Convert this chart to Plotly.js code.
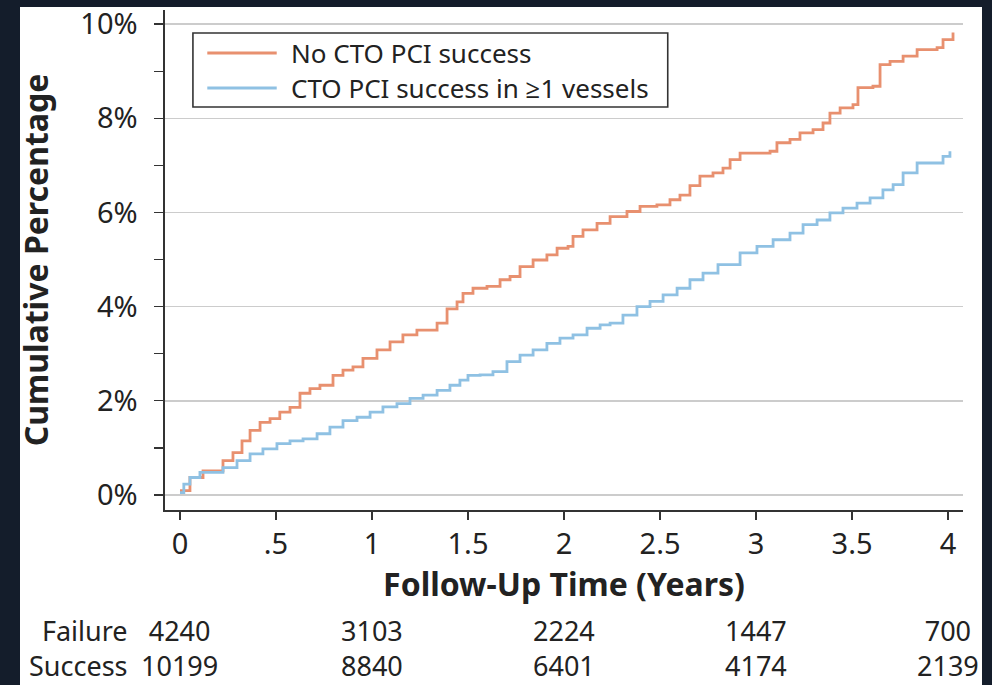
<!DOCTYPE html>
<html>
<head>
<meta charset="utf-8">
<script src="https://cdn.plot.ly/plotly-3.0.1.min.js"></script>
<style>
  html, body { margin: 0; padding: 0; background: #141d2b; width: 992px; height: 685px; overflow: hidden; }
  #chart { position: absolute; left: 0; top: 0; width: 992px; height: 685px; }
</style>
</head>
<body>
<div id="chart"></div>
<script>
// Cumulative incidence (%) over follow-up years, Kaplan-Meier style steps
const failureYears = [0, 0.052, 0.12, 0.17, 0.224, 0.276, 0.323, 0.365, 0.417, 0.469, 0.52, 0.573, 0.625, 0.677, 0.729, 0.797, 0.849, 0.901, 0.953, 1.026, 1.094, 1.161, 1.234, 1.292, 1.339, 1.391, 1.443, 1.474, 1.526, 1.599, 1.667, 1.719, 1.771, 1.839, 1.911, 1.964, 2.021, 2.047, 2.099, 2.172, 2.24, 2.328, 2.396, 2.484, 2.552, 2.604, 2.656, 2.708, 2.776, 2.828, 2.865, 2.917, 3.005, 3.073, 3.109, 3.177, 3.229, 3.297, 3.349, 3.385, 3.438, 3.505, 3.531, 3.609, 3.646, 3.698, 3.766, 3.839, 3.943, 3.974, 4.026];
const failurePct = [0.09, 0.37, 0.51, 0.51, 0.73, 0.9, 1.15, 1.37, 1.54, 1.62, 1.76, 1.86, 2.16, 2.26, 2.33, 2.54, 2.65, 2.72, 2.9, 3.08, 3.25, 3.4, 3.5, 3.5, 3.65, 3.95, 4.1, 4.28, 4.39, 4.43, 4.57, 4.64, 4.85, 4.99, 5.1, 5.24, 5.28, 5.49, 5.63, 5.77, 5.91, 6.02, 6.13, 6.16, 6.27, 6.37, 6.57, 6.77, 6.84, 6.94, 7.12, 7.26, 7.26, 7.3, 7.48, 7.55, 7.69, 7.76, 7.9, 8.11, 8.22, 8.29, 8.65, 8.68, 9.14, 9.21, 9.32, 9.46, 9.5, 9.67, 9.82];

const successYears = [0, 0.02, 0.052, 0.104, 0.172, 0.224, 0.297, 0.365, 0.432, 0.505, 0.573, 0.641, 0.714, 0.781, 0.849, 0.922, 0.99, 1.057, 1.13, 1.198, 1.266, 1.339, 1.406, 1.458, 1.5, 1.563, 1.63, 1.703, 1.771, 1.839, 1.911, 1.979, 2.047, 2.12, 2.188, 2.24, 2.307, 2.38, 2.448, 2.516, 2.589, 2.656, 2.724, 2.802, 2.917, 3.005, 3.089, 3.177, 3.245, 3.318, 3.385, 3.453, 3.526, 3.594, 3.661, 3.714, 3.766, 3.839, 3.922, 3.974, 4.01];
const successPct = [0.05, 0.23, 0.37, 0.48, 0.48, 0.58, 0.73, 0.87, 0.98, 1.09, 1.15, 1.19, 1.3, 1.44, 1.58, 1.65, 1.76, 1.87, 1.94, 2.05, 2.12, 2.22, 2.33, 2.44, 2.54, 2.55, 2.62, 2.83, 2.97, 3.08, 3.22, 3.33, 3.4, 3.54, 3.61, 3.65, 3.82, 4.0, 4.11, 4.25, 4.39, 4.57, 4.71, 4.89, 5.14, 5.28, 5.42, 5.56, 5.74, 5.84, 5.99, 6.09, 6.2, 6.31, 6.48, 6.59, 6.84, 7.05, 7.05, 7.19, 7.3];

const seriesNames = ['No CTO PCI success', 'CTO PCI success in \u22651 vessels'];
const seriesColors = ['#e8906f', '#8fc1e3'];

// Number at risk table
const riskYears = [0, 1, 2, 3, 4];
const riskFailure = [4240, 3103, 2224, 1447, 700];
const riskSuccess = [10199, 8840, 6401, 4174, 2139];
const riskLabels = ['Failure', 'Success'];

const yTickVals = [0, 2, 4, 6, 8, 10];
const yTickText = ['0%', '2%', '4%', '6%', '8%', '10%'];
const xTickVals = [0, 0.5, 1, 1.5, 2, 2.5, 3, 3.5, 4];
const xTickText = ['0', '.5', '1', '1.5', '2', '2.5', '3', '3.5', '4'];

const FONT = 'Noto Sans, Open Sans, sans-serif';
const INK = '#222222';
const FRAME = '#141d2b';

const traces = [
  { x: failureYears, y: failurePct, name: seriesNames[0], type: 'scatter', mode: 'lines',
    line: { color: seriesColors[0], width: 2.8, shape: 'hv' } },
  { x: successYears, y: successPct, name: seriesNames[1], type: 'scatter', mode: 'lines',
    line: { color: seriesColors[1], width: 2.8, shape: 'hv' } }
];

// Risk table: one two-line annotation per column (failure on top, success below)
const annotations = [];
const riskY = -0.276;
const riskFont = { family: FONT, size: 27, color: INK };
annotations.push({ xref: 'paper', yref: 'paper', x: -0.044, y: riskY, xanchor: 'right', yanchor: 'middle',
  align: 'right', text: riskLabels.join('<br>'), showarrow: false, font: riskFont });
riskYears.forEach((yr, i) => {
  annotations.push({ xref: 'x', yref: 'paper', x: yr, y: riskY, xanchor: 'center', yanchor: 'middle',
    align: 'center', text: riskFailure[i] + '<br>' + riskSuccess[i], showarrow: false, font: riskFont });
});

// Hand-built legend box so the sample lines run long
const legendRows = [0.914, 0.844];
seriesNames.forEach((name, i) => {
  annotations.push({ xref: 'paper', yref: 'paper', x: 0.156, y: legendRows[i], xanchor: 'left', yanchor: 'middle',
    text: name, showarrow: false, font: { family: FONT, size: 26, color: INK } });
});
const shapes = [
  // white figure panel inside the dark frame
  { type: 'rect', xref: 'paper', yref: 'paper', x0: -0.1817, x1: 1.0238, y0: -0.36, y1: 1.006,
    line: { width: 0 }, fillcolor: '#ffffff', layer: 'below' },
  { type: 'rect', xref: 'paper', yref: 'paper', x0: 0.035, x1: 0.630, y0: 0.806, y1: 0.954,
    line: { color: '#333333', width: 1.6 }, fillcolor: 'rgba(255,255,255,1)', layer: 'above' },
  { type: 'line', xref: 'paper', yref: 'paper', x0: 0.053, x1: 0.140, y0: legendRows[0], y1: legendRows[0],
    line: { color: seriesColors[0], width: 2.8 } },
  { type: 'line', xref: 'paper', yref: 'paper', x0: 0.053, x1: 0.140, y0: legendRows[1], y1: legendRows[1],
    line: { color: seriesColors[1], width: 2.8 } }
];

const layout = {
  width: 992, height: 685,
  margin: { l: 165, r: 29, t: 10, b: 175 },
  paper_bgcolor: FRAME, plot_bgcolor: 'rgba(0,0,0,0)',
  showlegend: false,
  font: { family: FONT, color: INK },
  xaxis: {
    range: [-0.078, 4.078], zeroline: false, showgrid: false,
    showline: true, linecolor: '#333333', linewidth: 1.6,
    ticks: 'outside', ticklen: 8, tickwidth: 1.4, tickcolor: '#333333',
    tickvals: xTickVals, ticktext: xTickText,
    tickfont: { family: FONT, size: 29, color: INK },
    ticklabeloverflow: 'allow',
    title: { text: '<b>Follow-Up Time (Years)</b>', font: { family: FONT, size: 32, color: INK }, standoff: 0 },
    automargin: false
  },
  yaxis: {
    range: [-0.32, 10.30], zeroline: false,
    showgrid: true, gridcolor: '#cccccc', gridwidth: 1.5,
    showline: true, linecolor: '#333333', linewidth: 1.6,
    ticks: 'outside', ticklen: 9, tickwidth: 1.4, tickcolor: '#333333',
    tickvals: yTickVals, ticktext: yTickText,
    minor: { dtick: 1, tick0: 0, ticks: 'outside', ticklen: 9, tickwidth: 1.4, tickcolor: '#333333', showgrid: false },
    tickfont: { family: FONT, size: 29, color: INK },
    ticklabelstandoff: 11,
    ticklabeloverflow: 'allow',
    title: { text: '<b>Cumulative Percentage</b>', font: { family: FONT, size: 32, color: INK }, standoff: 22 },
    automargin: false
  },
  annotations: annotations,
  shapes: shapes
};

Plotly.newPlot('chart', traces, layout, { displayModeBar: false, staticPlot: true });
</script>
</body>
</html>
